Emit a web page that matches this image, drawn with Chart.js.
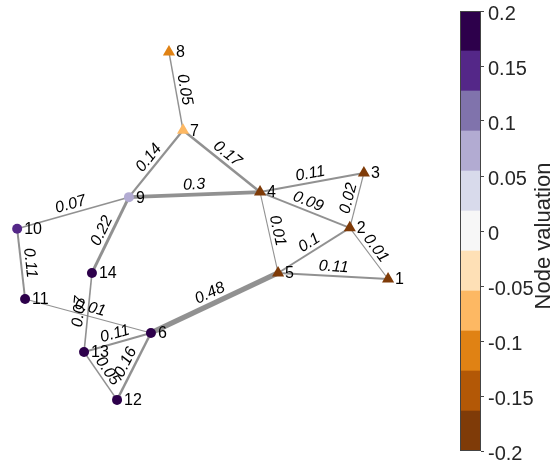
<!DOCTYPE html>
<html>
<head>
<meta charset="utf-8">
<script src="https://cdn.jsdelivr.net/npm/chart.js@4.4.1/dist/chart.umd.min.js"></script>
<style>
  html, body { margin: 0; padding: 0; background: #fff; }
  #wrap { position: relative; width: 560px; height: 465px; }
  #net { position: absolute; left: 0; top: 0; }
  #bar { position: absolute; left: 440px; top: 0; }
</style>
</head>
<body>
<div id="wrap">
  <canvas id="net" width="440" height="465"></canvas>
  <canvas id="bar" width="120" height="465"></canvas>
</div>
<script>
// nodes (layout coordinates) and their valuation
var nodeNames = ['1', '2', '3', '4', '5', '6', '7', '8', '9', '10', '11', '12', '13', '14'];
var nodeX = [8.82, 7.95, 8.27, 5.91, 6.32, 3.43, 4.16, 3.84, 2.93, 0.39, 0.57, 2.66, 1.91, 2.09];
var nodeY = [4.00, 5.10, 6.28, 5.87, 4.13, 2.84, 7.20, 8.88, 5.76, 5.08, 3.57, 1.40, 2.43, 4.13];
var nodeValue = [-0.19, -0.19, -0.19, -0.18, -0.19, 0.19, -0.07, -0.11, 0.08, 0.15, 0.19, 0.19, 0.19, 0.19];

// edges
var edgeFrom = [8, 9, 7, 9, 10, 14, 10, 11, 14, 13, 13, 12, 6, 4, 4, 4, 2, 5, 2, 5];
var edgeTo = [7, 7, 4, 4, 9, 9, 11, 6, 13, 6, 12, 6, 5, 3, 2, 5, 3, 2, 1, 1];
var edgeWeight = [0.05, 0.14, 0.17, 0.3, 0.07, 0.22, 0.11, 0.01, 0.07, 0.11, 0.05, 0.16, 0.48, 0.11, 0.09, 0.01, 0.02, 0.1, 0.01, 0.11];

// colour bar
var cbColors = ['#7f3b08', '#b35806', '#e08214', '#fdb863', '#fee0b6', '#f7f7f7',
                '#d8daeb', '#b2abd2', '#8073ac', '#542788', '#2d004b'];
var cbMin = -0.2, cbMax = 0.2;

function valueColor(v) {
  var n = cbColors.length;
  var i = Math.floor((v - cbMin) / (cbMax - cbMin) * n);
  return cbColors[Math.max(0, Math.min(n - 1, i))];
}
function edgeWidth(w) { return 1 + 9 * w; }

var datasets = [];
for (var e = 0; e < edgeWeight.length; e++) {
  var a = edgeFrom[e] - 1, b = edgeTo[e] - 1;
  datasets.push({
    data: [{ x: nodeX[a], y: nodeY[a] }, { x: nodeX[b], y: nodeY[b] }],
    showLine: true,
    borderColor: 'rgba(118,118,118,0.8)',
    borderWidth: edgeWidth(edgeWeight[e]),
    pointRadius: 0,
    order: 2,
    clip: false
  });
}
datasets.push({
  data: nodeX.map(function (x, i) { return { x: x, y: nodeY[i] }; }),
  pointStyle: nodeValue.map(function (v) { return v < 0 ? 'triangle' : 'circle'; }),
  pointRadius: nodeValue.map(function (v) { return v < 0 ? 7 : 5; }),
  backgroundColor: nodeValue.map(valueColor),
  borderColor: nodeValue.map(valueColor),
  borderWidth: 0,
  order: 1,
  clip: false
});

var labelPlugin = {
  id: 'labels',
  afterDatasetsDraw: function (chart) {
    var ctx = chart.ctx, xs = chart.scales.x, ys = chart.scales.y;
    ctx.save();
    ctx.fillStyle = '#000';
    ctx.textAlign = 'center';
    ctx.textBaseline = 'middle';
    ctx.font = 'italic 16px "Liberation Sans", Arial, sans-serif';
    for (var e = 0; e < edgeWeight.length; e++) {
      var a = edgeFrom[e] - 1, b = edgeTo[e] - 1;
      var x1 = xs.getPixelForValue(nodeX[a]), y1 = ys.getPixelForValue(nodeY[a]);
      var x2 = xs.getPixelForValue(nodeX[b]), y2 = ys.getPixelForValue(nodeY[b]);
      var ang = Math.atan2(y2 - y1, x2 - x1);
      if (ang > Math.PI / 2) ang -= Math.PI;
      if (ang <= -Math.PI / 2) ang += Math.PI;
      var off = 8 + edgeWidth(edgeWeight[e]) / 2;
      var mx = (x1 + x2) / 2 + Math.sin(ang) * off;
      var my = (y1 + y2) / 2 - Math.cos(ang) * off;
      ctx.save();
      ctx.translate(mx, my);
      ctx.rotate(ang);
      ctx.fillText(String(edgeWeight[e]), 0, 0);
      ctx.restore();
    }
    ctx.textAlign = 'left';
    ctx.font = '16px "Liberation Sans", Arial, sans-serif';
    for (var i = 0; i < nodeNames.length; i++) {
      ctx.fillText(nodeNames[i], xs.getPixelForValue(nodeX[i]) + 7, ys.getPixelForValue(nodeY[i]) + 1);
    }
    ctx.restore();
  }
};

new Chart(document.getElementById('net'), {
  type: 'scatter',
  data: { datasets: datasets },
  options: {
    responsive: false,
    animation: false,
    layout: { padding: 0, autoPadding: false },
    plugins: { legend: { display: false }, tooltip: { enabled: false } },
    scales: {
      x: { display: false, min: 0, max: 10 },
      y: { display: false, min: 0, max: 10 }
    }
  },
  plugins: [labelPlugin]
});

// colour bar as floating bars
var step = (cbMax - cbMin) / cbColors.length;
var barSets = cbColors.map(function (c, i) {
  return {
    data: [[cbMin + i * step, cbMin + (i + 1) * step]],
    backgroundColor: c,
    borderWidth: 0,
    barPercentage: 1,
    categoryPercentage: 1,
    grouped: false
  };
});

var cbPlugin = {
  id: 'cbframe',
  afterDraw: function (chart) {
    var ctx = chart.ctx, a = chart.chartArea;
    ctx.save();
    ctx.strokeStyle = '#444';
    ctx.lineWidth = 1;
    ctx.strokeRect(Math.round(a.left) + 0.5, Math.round(a.top) + 0.5,
                   Math.round(a.right - a.left) - 1, Math.round(a.bottom - a.top) - 1);
    ctx.translate(110, 236);
    ctx.rotate(-Math.PI / 2);
    ctx.fillStyle = '#262626';
    ctx.textAlign = 'center';
    ctx.textBaseline = 'alphabetic';
    ctx.font = '22px "Liberation Sans", Arial, sans-serif';
    ctx.fillText('Node valuation', 0, 0);
    ctx.restore();
  }
};

new Chart(document.getElementById('bar'), {
  type: 'bar',
  data: { labels: [''], datasets: barSets },
  options: {
    responsive: false,
    animation: false,
    layout: { padding: { left: 20, top: 11, bottom: 14, right: 0 }, autoPadding: false },
    plugins: { legend: { display: false }, tooltip: { enabled: false } },
    scales: {
      x: { display: false },
      y: {
        position: 'right',
        min: cbMin,
        max: cbMax,
        afterFit: function (s) { s.width = 79; s.paddingTop = 0; s.paddingBottom = 0; },
        border: { display: false },
        grid: { drawOnChartArea: false, tickLength: 3, color: '#444' },
        ticks: {
          stepSize: 0.05,
          padding: 4,
          labelOffset: 3,
          color: '#262626',
          font: { family: '"Liberation Sans", Arial, sans-serif', size: 20, lineHeight: 1 },
          callback: function (v) { return String(Math.round(v * 100) / 100); }
        }
      }
    }
  },
  plugins: [cbPlugin]
});
</script>
</body>
</html>
